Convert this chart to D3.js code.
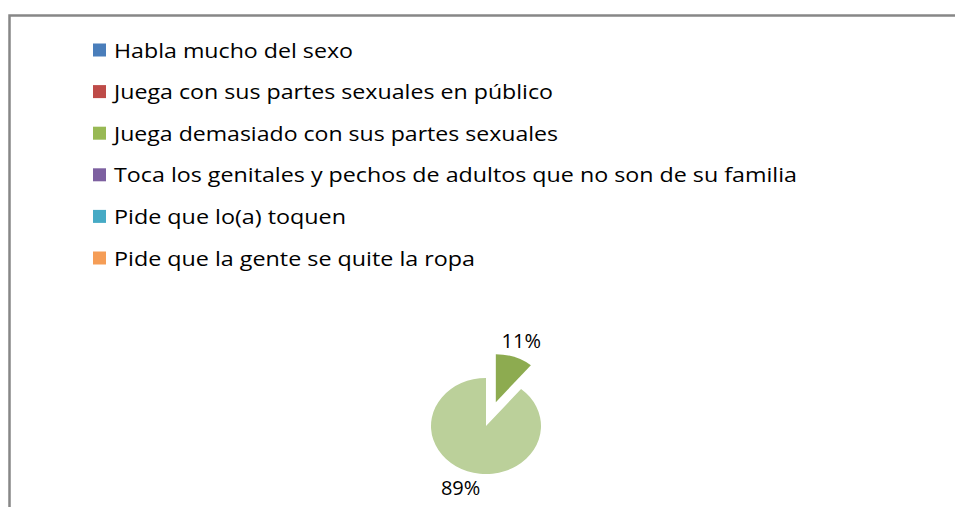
<!DOCTYPE html>
<html>
<head>
<meta charset="utf-8">
<script src="https://cdn.jsdelivr.net/npm/d3@7"></script>
<style>
  html, body { margin: 0; padding: 0; background: #fff; }
  svg { display: block; }
</style>
</head>
<body>
<div id="chart"></div>
<script>
// legend categories (the pie's first six points)
const categories = [
  'Habla mucho del sexo',
  'Juega con sus partes sexuales en público',
  'Juega demasiado con sus partes sexuales',
  'Toca los genitales y pechos de adultos que no son de su familia',
  'Pide que lo(a) toquen',
  'Pide que la gente se quite la ropa'
];
const categoryColors = ['#4a7ebb', '#be4b48', '#98b954', '#7d60a0', '#46aac5', '#f59d56'];

// percentages per point; the last point has no legend entry
const values = [0, 0, 11, 0, 0, 0, 89];
const sliceColors = ['#4a7ebb', '#be4b48', '#8dab50', '#7d60a0', '#46aac5', '#f59d56', '#bbd09a'];
const explodedIndex = 2;

// legend label widths as they appear in the picture (layout only)
const legendTextWidths = [239, 439, 444, 683, 232, 361];

const width = 955, height = 507;

const svg = d3.select('#chart')
  .append('svg')
  .attr('width', width)
  .attr('height', height);

// frame: only left and top edges are visible
svg.append('path')
  .attr('d', `M9.5,${height} L9.5,15.5 L${width},15.5`)
  .attr('fill', 'none')
  .attr('stroke', '#878787')
  .attr('stroke-width', 2.5);

// legend
const legend = svg.append('g')
  .attr('transform', 'translate(93,50)');

const rowGap = 41.6;
const items = legend.selectAll('.item')
  .data(categories)
  .enter()
  .append('g')
  .attr('class', 'item')
  .attr('transform', (d, i) => `translate(0,${i * rowGap})`);

items.append('rect')
  .attr('x', 0)
  .attr('y', -6.5)
  .attr('width', 13)
  .attr('height', 13)
  .attr('fill', (d, i) => categoryColors[i]);

items.append('text')
  .text(d => d)
  .attr('x', 21)
  .attr('y', 7.5)
  .attr('font-family', '"Open Sans", "Noto Sans", sans-serif')
  .attr('font-size', '20px')
  .attr('fill', '#000')
  .attr('textLength', (d, i) => legendTextWidths[i])
  .attr('lengthAdjust', 'spacingAndGlyphs');

// pie (slightly squashed vertically, like the source)
const cx = 486, cy = 426, r = 55, sy = 48 / 55, explode = 29;

const pie = d3.pie().sort(null).value(d => d);
const arcs = pie(values).filter(a => a.value > 0);
const arc = d3.arc().innerRadius(0).outerRadius(r);

const pieG = svg.append('g')
  .attr('transform', `translate(${cx},${cy}) scale(1,${sy})`);

function offset(a, dist) {
  const mid = (a.startAngle + a.endAngle) / 2;
  return [Math.sin(mid) * dist, -Math.cos(mid) * dist];
}

pieG.selectAll('path')
  .data(arcs)
  .enter()
  .append('path')
  .attr('d', arc)
  .attr('fill', a => sliceColors[a.index])
  .attr('transform', a => {
    const [dx, dy] = a.index === explodedIndex ? offset(a, explode) : [0, 0];
    return `translate(${dx},${dy})`;
  });

// data labels outside the slices
svg.selectAll('.pct')
  .data(arcs)
  .enter()
  .append('text')
  .attr('class', 'pct')
  .text(a => a.value + '%')
  .attr('x', a => {
    const d = r + 20 + (a.index === explodedIndex ? explode : 0);
    return cx + offset(a, d)[0];
  })
  .attr('y', a => {
    const d = r + 20 + (a.index === explodedIndex ? explode : 0);
    return cy + offset(a, d)[1] * sy;
  })
  .attr('dy', '0.35em')
  .attr('text-anchor', 'middle')
  .attr('font-family', '"Open Sans", "Noto Sans", sans-serif')
  .attr('font-size', '20px')
  .attr('fill', '#000');
</script>
</body>
</html>
